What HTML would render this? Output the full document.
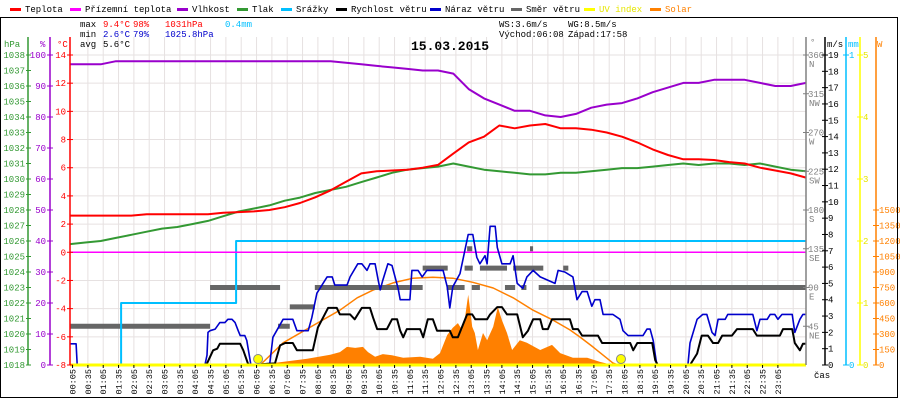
<!DOCTYPE html>
<html><head><meta charset="utf-8"><style>
html,body{margin:0;padding:0;background:#fff;}
svg{display:block;font-family:"Liberation Mono","DejaVu Sans Mono",monospace;}
</style></head><body>
<svg id="chart" width="900" height="400" viewBox="0 0 900 400" xmlns="http://www.w3.org/2000/svg">
<rect x="0" y="0" width="900" height="400" fill="#fff"/>
<g id="grid"></g>
<g id="series"></g>
<g id="axes"></g>
<g id="legend" font-size="9"></g>
<g font-size="9">
<text x="80" y="27">max</text><text x="103" y="27" fill="#f00">9.4°C</text><text x="133" y="27" fill="#f00">98%</text><text x="165" y="27" fill="#f00">1031hPa</text><text x="225" y="27" fill="#00bfff">0.4mm</text>
<text x="80" y="37">min</text><text x="103" y="37" fill="#00c">2.6°C</text><text x="133" y="37" fill="#00c">79%</text><text x="165" y="37" fill="#00c">1025.8hPa</text>
<text x="80" y="47">avg</text><text x="103" y="47">5.6°C</text>
<text x="499" y="27">WS:3.6m/s</text><text x="568" y="27">WG:8.5m/s</text>
<text x="499" y="37">Východ:06:08</text><text x="568" y="37">Západ:17:58</text>
</g>
<text x="450" y="50" text-anchor="middle" font-size="13" font-weight="bold">15.03.2015</text>
<rect x="0.5" y="17.5" width="897" height="380" fill="none" stroke="#000"/>
</svg>
<script>
// ---- data ----
const tempTimes=[0,30,60,90,120,150,180,210,240,270,300,330,360,390,420,450,480,510,540,570,600,630,660,690,720,750,780,810,840,870,900,930,960,990,1020,1050,1080,1110,1140,1170,1200,1230,1260,1290,1320,1350,1380,1410,1440];
const tempValues=[2.6,2.6,2.6,2.6,2.6,2.7,2.7,2.7,2.7,2.7,2.8,2.85,2.9,3.0,3.2,3.5,3.9,4.4,5.0,5.6,5.75,5.8,5.85,6.0,6.2,7.0,7.8,8.2,9.0,8.8,9.0,9.1,8.8,8.8,8.7,8.5,8.2,7.8,7.3,6.9,6.6,6.6,6.55,6.4,6.3,6.0,5.8,5.6,5.3];
const feelValues=[0,0];
const feelTimes=[0,1440];
const humValues=[97,97,97,98,98,98,98,98,98,98,98,98,98,98,98,98,98,98,97.5,97,96.5,96,95.5,95,95,94,89,86,84,82,82,80.5,80,81,83,84,84.5,86,88,89.5,91,91,92,92,92,91,90,90,91];
const presValues=[1025.8,1025.9,1026.0,1026.2,1026.4,1026.6,1026.8,1026.9,1027.1,1027.3,1027.6,1027.9,1028.1,1028.3,1028.6,1028.8,1029.1,1029.3,1029.5,1029.8,1030.1,1030.4,1030.6,1030.7,1030.8,1031.0,1030.8,1030.6,1030.5,1030.4,1030.3,1030.3,1030.4,1030.4,1030.5,1030.6,1030.7,1030.7,1030.8,1030.9,1031.0,1030.9,1031.0,1031.0,1030.9,1031.0,1030.8,1030.6,1030.5];
const rainTimes=[0,100,100,325,325,1440];
const rainValues=[0,0,0.2,0.2,0.4,0.4];
const gustTimes=[0,12,14,264,268,270,274,284,293,303,309,317,323,329,333,342,346,354,391,397,417,436,444,466,473,483,493,503,513,518,542,548,563,571,581,587,597,603,607,612,622,630,642,646,665,669,681,689,698,730,738,743,749,763,779,788,796,802,812,816,822,832,836,845,861,867,875,886,894,906,920,949,955,968,984,992,1002,1012,1021,1027,1037,1043,1062,1076,1082,1092,1121,1129,1135,1141,1148,1209,1213,1227,1238,1246,1256,1262,1268,1282,1287,1336,1344,1350,1364,1370,1379,1385,1393,1413,1418,1428,1434,1440];
const gustValues=[1.3,1.3,0,0,0.6,2.0,2.1,2.2,2.6,2.6,2.8,2.8,2.6,2.1,1.8,1.8,1.5,0,0.1,1.7,2.8,2.8,2.1,2.1,2.9,4.4,4.9,5.4,5.4,4.9,4.9,5.4,6.2,6.2,5.8,6.2,6.2,5.2,4.6,5.2,6.2,6.1,4.7,4.0,4.0,5.8,5.8,5.4,5.8,5.8,4.8,3.5,4.8,5.6,8.0,8.0,6.6,6.2,6.7,6.2,8.5,8.5,7.2,6.2,6.2,6.7,5.0,4.7,5.4,5.8,5.4,5.0,5.8,5.7,5.4,4.0,4.5,4.5,3.6,4.0,4.0,3.1,3.1,2.8,2.1,1.8,1.8,2.2,2.2,1.5,0,0,1.35,2.8,3.1,3.1,2.0,1.8,2.8,2.8,3.1,3.1,2.1,2.8,2.8,3.1,3.1,2.8,3.1,3.1,2.0,2.8,3.1,3.1];
const speedTimes=[0,264,268,280,288,293,333,339,348,352,401,411,421,436,444,475,485,505,522,528,548,557,571,587,593,601,620,630,640,646,652,659,685,691,700,710,718,743,749,759,777,787,793,816,822,836,845,855,875,886,896,906,920,925,935,943,978,984,994,1002,1033,1041,1096,1102,1110,1139,1145,1150,1213,1227,1236,1248,1258,1268,1276,1295,1305,1336,1344,1389,1395,1413,1418,1428,1434,1440];
const speedValues=[0,0,0.1,0.9,1.0,1.3,1.3,0.9,0.1,0,0.1,1.2,1.35,1.35,0.9,0.9,2.3,3.5,3.5,3.1,3.1,2.8,3.5,3.5,2.9,2.2,2.2,2.8,2.8,2.1,1.7,2.2,2.2,1.7,2.8,2.8,2.1,2.1,1.7,1.7,3.1,3.1,2.8,2.8,3.1,3.55,3.55,3.1,3.1,1.7,2.1,2.8,2.8,2.2,2.2,2.8,2.8,2.2,2.2,1.8,1.8,1.35,1.35,0.9,1.35,1.35,0.3,0,0,0.7,1.8,1.8,1.35,1.35,1.8,1.8,2.2,2.2,1.8,1.8,2.2,2.2,1.35,0.9,1.3,1.3];
const dirStart=[0,274,407,430,479,690,737,772,786,802,851,867,883,900,777,917,959,965];
const dirEnd=[274,411,430,479,690,739,772,788,802,855,871,926,893,906,787,978,1440,975];
const dirValues=[45,90,45,67.5,90,112.5,90,112.5,90,112.5,90,112.5,90,135,135,90,90,112.5];
const solarTimes=[0,395,401,464,509,528,542,558,573,583,597,612,630,652,685,710,724,738,749,759,767,773,779,783,787,792,798,808,816,828,837,845,855,865,880,894,920,943,959,984,1012,1037,1062,1440];
const solarValues=[0,0,20,60,100,125,175,165,175,125,80,105,95,70,80,60,115,290,360,405,340,465,680,530,370,310,145,310,240,370,560,435,310,145,240,215,145,195,115,70,70,30,0,0];
const sunTimes=[372,417,489,528,562,593,632,671,710,749,788,828,867,906,945,978,998,1023,1062,1072];
const sunValues=[0,215,420,530,650,725,795,840,850,840,800,745,650,530,435,340,270,175,20,0];
const sunEvents=[368,1078];
const hpaTicks=[1038,1037,1036,1035,1034,1033,1032,1031,1030,1029,1028,1027,1026,1025,1024,1023,1022,1021,1020,1019,1018];
const pctTicks=[100,90,80,70,60,50,40,30,20,10,0];
const degTicks=[14,12,10,8,6,4,2,0,-2,-4,-6,-8];
const dirTicks=[360,315,270,225,180,135,90,45];
const dirNames=["N","NW","W","SW","S","SE","E","NE"];
const msTicks=[19,18,17,16,15,14,13,12,11,10,9,8,7,6,5,4,3,2,1,0];
const mmTicks=[1,0];
const uvTicks=[5,4,3,2,1,0];
const wTicks=[1500,1350,1200,1050,900,750,600,450,300,150,0];
const legendNames=["Teplota","Přízemní teplota","Vlhkost","Tlak","Srážky","Rychlost větru","Náraz větru","Směr větru","UV index","Solar"];
const legendColors=["#ff0000","#ff00ff","#9900cc","#339933","#00bfff","#000000","#0000cc","#666666","#ffff00","#ff8000"];
const legendX=[10,70,177,237,281,336,430,511,584,650];

// ---- scales ----
const X0=70,X1=806,Y0=365,YT=55;
const sx=m=>X0+m*(X1-X0)/1440;
const yT=v=>Y0-(v+8)*(Y0-YT)/22;
const yH=v=>Y0-v*(Y0-YT)/100;
const yP=v=>Y0-(v-1018)*(Y0-YT)/20;
const yMM=v=>Y0-v*(Y0-YT)/1;
const yMS=v=>Y0-v*(Y0-YT)/19;
const yDir=v=>Y0-v*(Y0-YT)/360;
const yW=v=>Y0-v*(Y0-YT)/3000;
const yUV=v=>Y0-v*(Y0-YT)/5;
const NS="http://www.w3.org/2000/svg";
function mk(tag,attrs,parent){const e=document.createElementNS(NS,tag);for(const k in attrs)e.setAttribute(k,attrs[k]);parent.appendChild(e);return e;}
const grid=document.getElementById('grid'),ser=document.getElementById('series'),ax=document.getElementById('axes'),lg=document.getElementById('legend');
const half=[];for(let i=0;i<=48;i++)half.push(i*30);

// grid
for(let i=1;i<48;i++){const l=mk('line',{x1:sx(i*30+5),x2:sx(i*30+5),y1:37,y2:Y0,stroke:'#e6e1e1','stroke-width':1},grid);

}
degTicks.forEach(v=>{const l=mk('line',{x1:X0,x2:X1,y1:yT(v),y2:yT(v),stroke:'#e6e1e1','stroke-width':1},grid);

});

function line(times,vals,yf,color,w,name){const pts=times.map((t,i)=>sx(t).toFixed(1)+','+yf(vals[i]).toFixed(1)).join(' ');
const p=mk('polyline',{points:pts,fill:'none',stroke:color,'stroke-width':w,'stroke-linejoin':'round'},ser);

return p;}

// solar area
{const pts=solarTimes.map((t,i)=>sx(t).toFixed(1)+','+yW(solarValues[i]).toFixed(1));
const p=mk('polygon',{points:sx(0)+','+Y0+' '+pts.join(' ')+' '+sx(1440)+','+Y0,fill:'#ff8000',stroke:'none'},ser);

}
line(sunTimes,sunValues,yW,'#ff8000',1.5,'theoretical-solar-line');
// wind direction
dirValues.forEach((v,i)=>{const r=mk('rect',{x:sx(dirStart[i]),y:yDir(v)-2.5,width:sx(dirEnd[i])-sx(dirStart[i]),height:5,fill:'#666'},ser);

});
line(rainTimes,rainValues,yMM,'#00bfff',2,'precipitation-line');
line(feelTimes,feelValues,yT,'#ff00ff',1.5,'apparent-temperature-line');
line(half,presValues,yP,'#339933',2,'pressure-line');
line(half,humValues,yH,'#9900cc',2,'humidity-line');
line(half,tempValues,yT,'#ff0000',2,'temperature-line');
line(gustTimes,gustValues,yMS,'#0000cc',1.6,'wind-gust-line');
line(speedTimes,speedValues,yMS,'#000',2,'wind-speed-line');
{const l=mk('line',{x1:X0,x2:X1,y1:yUV(0),y2:yUV(0),stroke:'#ffff00','stroke-width':3},ser);

}
sunEvents.forEach(t=>{const c=mk('circle',{cx:sx(t),cy:Y0-6,r:4.5,fill:'#ffff00',stroke:'#888','stroke-width':1},ser);

});

// axes
function vaxis(x,color,name){const l=mk('line',{x1:x,x2:x,y1:37,y2:Y0,stroke:color,'stroke-width':1.5},ax);

}
function label(x,y,txt,color,anchor,name){const t=mk('text',{x:x,y:y,fill:color,'text-anchor':anchor,'font-size':9},ax);t.textContent=txt;

return t;}
vaxis(28,'#339933','pressure-axis');vaxis(50,'#9900cc','humidity-axis');vaxis(X0,'#ff0000','temperature-axis');
vaxis(X1,'#808080','direction-axis');vaxis(825,'#000','wind-speed-axis');vaxis(846,'#00bfff','precipitation-axis');vaxis(860,'#ffff00','uv-axis');vaxis(876,'#ff8000','solar-axis');
hpaTicks.forEach(v=>{mk('line',{x1:26,x2:31,y1:yP(v),y2:yP(v),stroke:'#339933'},ax);label(25,yP(v)+3,String(v),'#339933','end','pressure-tick');});
pctTicks.forEach(v=>{mk('line',{x1:47,x2:53,y1:yH(v),y2:yH(v),stroke:'#9900cc'},ax);label(46,yH(v)+3,String(v),'#9900cc','end','humidity-tick');});
degTicks.forEach(v=>{mk('line',{x1:67,x2:73,y1:yT(v),y2:yT(v),stroke:'#ff0000'},ax);label(66,yT(v)+3,String(v),'#ff0000','end','temperature-tick');});
dirTicks.forEach((v,i)=>{mk('line',{x1:803,x2:809,y1:yDir(v),y2:yDir(v),stroke:'#808080'},ax);label(808,yDir(v)+3,String(v),'#808080','start','direction-tick');label(809,yDir(v)+12,dirNames[i],'#808080','start','direction-name');});
msTicks.forEach(v=>{mk('line',{x1:822,x2:828,y1:yMS(v),y2:yMS(v),stroke:'#000'},ax);label(828,yMS(v)+3,String(v),'#000','start','wind-speed-tick');});
mmTicks.forEach(v=>{mk('line',{x1:843,x2:849,y1:yMM(v),y2:yMM(v),stroke:'#00bfff'},ax);label(849,yMM(v)+3,String(v),'#00bfff','start','precipitation-tick');});
uvTicks.forEach(v=>{mk('line',{x1:857,x2:863,y1:yUV(v),y2:yUV(v),stroke:'#ffff00'},ax);label(863,yUV(v)+3,String(v),'#e6e600','start','uv-tick');});
wTicks.forEach(v=>{mk('line',{x1:873,x2:879,y1:yW(v),y2:yW(v),stroke:'#ff8000'},ax);label(879,yW(v)+3,String(v),'#ff8000','start','solar-tick');});
label(4,47,'hPa','#339933','start','pressure-axis-title');label(40,47,'%','#9900cc','start','humidity-axis-title');label(57,47,'°C','#ff0000','start','temperature-axis-title');
label(810,45,'°','#808080','start','direction-axis-title');label(827,47,'m/s','#000','start','wind-speed-axis-title');label(848,47,'mm','#00bfff','start','precipitation-axis-title');label(877,47,'W','#ff8000','start','solar-axis-title');
label(814,378,'čas','#000','start','x-axis-title');
for(let i=0;i<47;i++){const m=i*30+5;const x=sx(m);mk('line',{x1:x,x2:x,y1:Y0,y2:Y0+3,stroke:'#000'},ax);
const hh=String(Math.floor(m/60)).padStart(2,'0'),mm=String(m%60).padStart(2,'0');
const t=label(0,0,hh+':'+mm,'#000','end','x-tick-label');t.setAttribute('transform','translate('+(x+3)+',369) rotate(-90)');t.setAttribute('font-size','8.5');}
// legend
legendNames.forEach((n,i)=>{const r=mk('rect',{x:legendX[i],y:8,width:11,height:3,fill:legendColors[i]},lg);


const t=mk('text',{x:legendX[i]+15,y:12,fill:(i===8?'#e6e600':(i===9?'#ff8000':'#000'))},lg);t.textContent=n;

});
</script>
</body></html>
